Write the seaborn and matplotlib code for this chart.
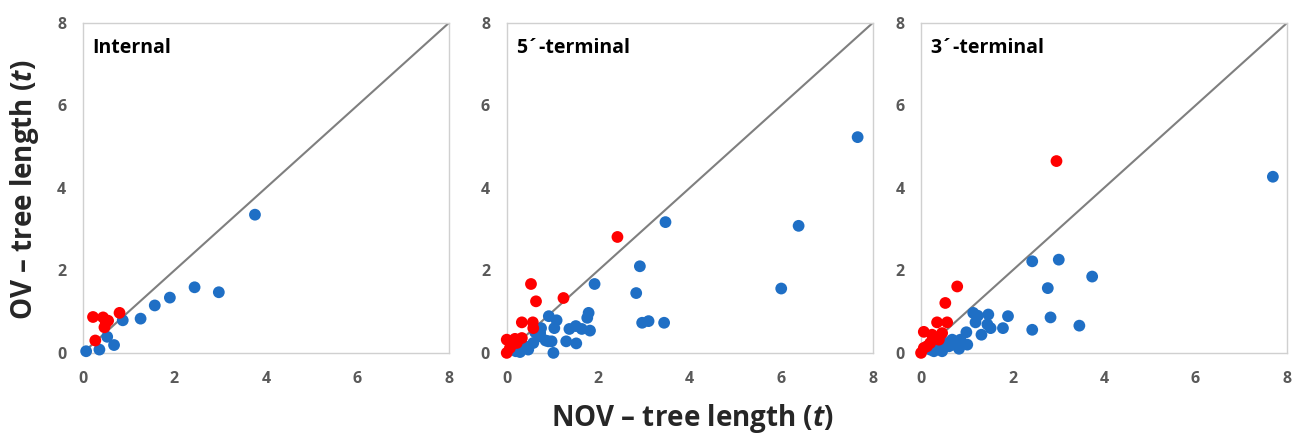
"""
OV vs NOV tree length scatter, three panels (internal, 5'-terminal, 3'-terminal).
"""
import pandas as pd
import matplotlib
matplotlib.use('Agg')
import matplotlib.pyplot as plt
import seaborn as sns

# values
panels = ['Internal', '5\u00b4-terminal', '3\u00b4-terminal']

internal_blue_x = [0.07, 0.36, 0.53, 0.68, 0.87, 1.26, 1.57, 1.90, 2.44, 2.97, 3.76]
internal_blue_y = [0.04, 0.08, 0.39, 0.19, 0.79, 0.83, 1.15, 1.34, 1.59, 1.47, 3.35]
internal_red_x = [0.22, 0.44, 0.55, 0.47, 0.80, 0.27, 0.50]
internal_red_y = [0.87, 0.86, 0.78, 0.62, 0.97, 0.30, 0.72]

five_blue_x = [7.67, 6.38, 6.00, 3.47, 2.91, 2.83, 2.96, 3.10, 3.44, 1.92, 1.79, 1.76,
               1.82, 1.64, 1.51, 1.37, 1.30, 1.52, 1.02, 0.98, 0.92, 1.09, 1.04, 0.75,
               0.73, 0.58, 0.47, 0.29, 0.40, 0.91, 0.73, 0.62, 0.35, 0.20, 0.85]
five_blue_y = [5.23, 3.08, 1.56, 3.17, 2.10, 1.45, 0.73, 0.77, 0.73, 1.67, 0.97, 0.85,
               0.54, 0.58, 0.65, 0.58, 0.28, 0.23, 0.00, 0.28, 0.89, 0.79, 0.60, 0.60,
               0.40, 0.24, 0.08, 0.02, 0.16, 0.28, 0.48, 0.50, 0.10, 0.04, 0.30]
five_red_x = [2.42, 0.53, 0.64, 1.24, 0.33, 0.57, 0.58, 0.00, 0.18, 0.33, 0.00, 0.07, 0.22]
five_red_y = [2.81, 1.67, 1.25, 1.33, 0.74, 0.74, 0.60, 0.32, 0.34, 0.36, 0.00, 0.12, 0.24]

three_blue_x = [7.69, 3.74, 3.01, 2.43, 2.77, 2.83, 3.46, 2.43, 1.90, 1.79, 1.52, 1.47,
                1.45, 1.32, 1.14, 1.24, 1.19, 0.99, 1.01, 0.86, 0.83, 0.68, 0.61, 0.46,
                0.28, 0.39, 0.53, 0.72, 0.20, 0.90]
three_blue_y = [4.27, 1.85, 2.26, 2.22, 1.57, 0.86, 0.66, 0.56, 0.89, 0.60, 0.60, 0.93,
                0.69, 0.44, 0.97, 0.90, 0.74, 0.50, 0.20, 0.32, 0.10, 0.32, 0.16, 0.04,
                0.04, 0.16, 0.24, 0.20, 0.08, 0.22]
three_red_x = [2.96, 0.79, 0.53, 0.35, 0.57, 0.06, 0.24, 0.46, 0.39, 0.20, 0.00, 0.06, 0.13, 0.28]
three_red_y = [4.65, 1.61, 1.21, 0.74, 0.74, 0.51, 0.44, 0.48, 0.32, 0.24, 0.00, 0.12, 0.16, 0.36]

ticks = [0, 2, 4, 6, 8]

BLUE = '#1F6FC5'
RED = '#FF0000'


def make_frame(bx, by, rx, ry):
    df_b = pd.DataFrame({'nov': bx, 'ov': by, 'grp': 'blue'})
    df_r = pd.DataFrame({'nov': rx, 'ov': ry, 'grp': 'red'})
    return pd.concat([df_b, df_r], ignore_index=True)


frames = [
    make_frame(internal_blue_x, internal_blue_y, internal_red_x, internal_red_y),
    make_frame(five_blue_x, five_blue_y, five_red_x, five_red_y),
    make_frame(three_blue_x, three_blue_y, three_red_x, three_red_y),
]

sns.set_style('white')
plt.rcParams['font.family'] = ['Open Sans', 'DejaVu Sans']
plt.rcParams['mathtext.fontset'] = 'custom'
plt.rcParams['mathtext.it'] = 'Open Sans:bold:italic'
plt.rcParams['mathtext.rm'] = 'Open Sans:bold'

fig = plt.figure(figsize=(12.96, 4.4), dpi=100)
lefts = [0.064, 0.391, 0.7107]
for i, (name, df) in enumerate(zip(panels, frames)):
    ax = fig.add_axes([lefts[i], 0.198, 0.2824, 0.75])
    ax.plot([0, 8], [0, 8], color='#7f7f7f', lw=1.5, zorder=1)
    sns.scatterplot(data=df, x='nov', y='ov', hue='grp', hue_order=['blue', 'red'],
                    palette={'blue': BLUE, 'red': RED}, s=72, edgecolor='none',
                    legend=False, ax=ax, zorder=3, clip_on=False)
    ax.set_xlim(0, 8)
    ax.set_ylim(0, 8)
    ax.set_xticks(ticks)
    ax.set_yticks(ticks)
    ax.tick_params(length=0, labelsize=11.5, labelcolor='#595959')
    ax.tick_params(axis='x', pad=13)
    ax.tick_params(axis='y', pad=12)
    for lab in ax.get_xticklabels() + ax.get_yticklabels():
        lab.set_fontweight('bold')
    for sp in ax.spines.values():
        sp.set_color('#D0D0D0')
        sp.set_linewidth(1)
    ax.set_xlabel('')
    ax.set_ylabel('')
    ax.text(0.025, 0.955, name, transform=ax.transAxes, ha='left', va='top',
            fontsize=14, fontweight='bold', color='black')

fig.text(0.534, 0.05, r'NOV – tree length ($t$)', ha='center', va='center',
         fontsize=20, fontweight='bold')
fig.text(0.019, 0.568, r'OV – tree length ($t$)', ha='center', va='center',
         rotation=90, fontsize=20, fontweight='bold')

plt.savefig('out.png', dpi=100)
plt.close()
